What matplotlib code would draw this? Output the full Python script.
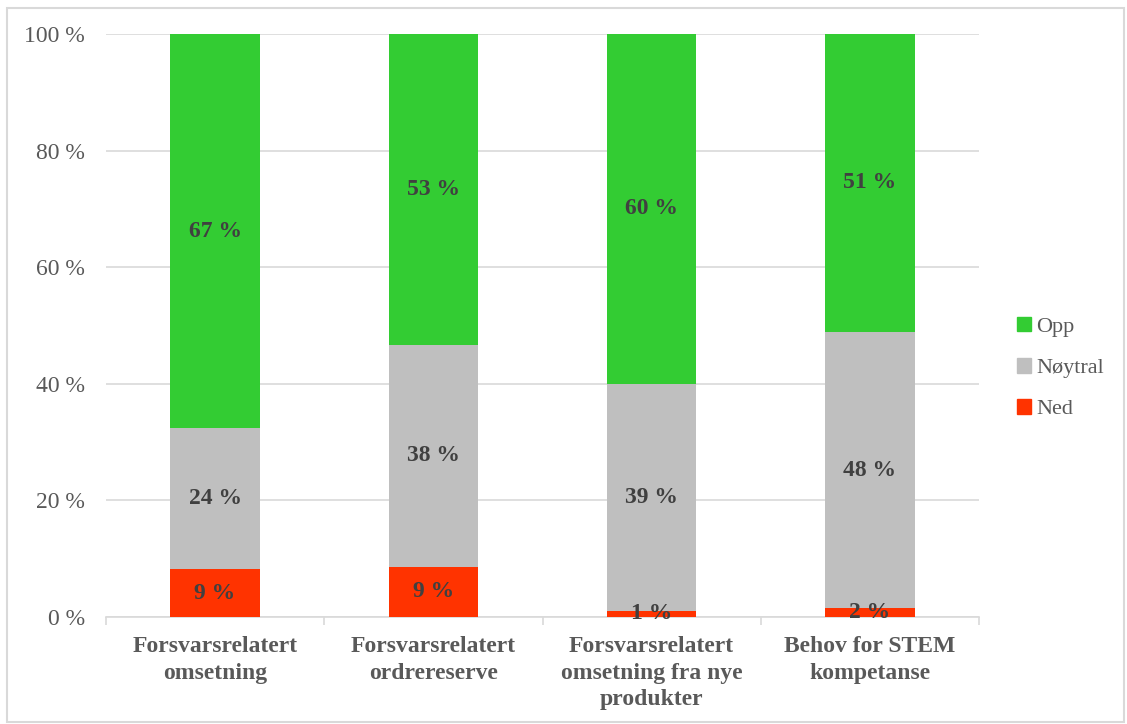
import matplotlib
matplotlib.use("Agg")
import matplotlib.pyplot as plt
from matplotlib.patches import Rectangle, Patch
import numpy as np

categories = ["Forsvarsrelatert\nomsetning", "Forsvarsrelatert\nordrereserve",
              "Forsvarsrelatert\nomsetning fra nye\nprodukter", "Behov for STEM\nkompetanse"]
ned = [8.2, 8.6, 1.1, 1.5]
noytral = [24.2, 38.1, 38.9, 47.4]
opp = [67.6, 53.3, 60.0, 51.1]
ned_labels = ["9 %", "9 %", "1 %", "2 %"]
noytral_labels = ["24 %", "38 %", "39 %", "48 %"]
opp_labels = ["67 %", "53 %", "60 %", "51 %"]
yticks = [0, 20, 40, 60, 80, 100]

plt.rcParams['font.family'] = ['Liberation Serif', 'DejaVu Serif']

fig = plt.figure(figsize=(11.27, 7.24), dpi=100)
ax = fig.add_axes([106/1127, 1-617/724, (979-106)/1127, (617-34)/724])

x = np.arange(len(categories))
w = 0.41
c_ned, c_noy, c_opp = "#FF3300", "#BFBFBF", "#33CC33"
ax.bar(x, ned, w, color=c_ned, label="Ned", zorder=3)
ax.bar(x, noytral, w, bottom=ned, color=c_noy, label="Nøytral", zorder=3)
bottom2 = np.array(ned) + np.array(noytral)
ax.bar(x, opp, w, bottom=bottom2, color=c_opp, label="Opp", zorder=3)

lab_kw = dict(ha="center", va="center", fontsize=17, fontweight="bold", color="#404040", zorder=4)
for i in range(len(categories)):
    ax.text(x[i], ned[i]/2, ned_labels[i], **lab_kw)
    ax.text(x[i], ned[i] + noytral[i]/2, noytral_labels[i], **lab_kw)
    ax.text(x[i], bottom2[i] + opp[i]/2, opp_labels[i], **lab_kw)

ax.set_xlim(-0.5, len(categories) - 0.5)
ax.set_ylim(0, 100)
ax.set_yticks(yticks)
ax.set_yticklabels([f"{v} %" for v in yticks], fontsize=17, color="#595959")
ax.yaxis.grid(True, color="#D9D9D9", linewidth=1.2, zorder=0)
ax.tick_params(axis="y", length=0, pad=15)
ax.set_xticks(x)
ax.set_xticklabels(categories, fontsize=17, fontweight="bold", color="#595959", linespacing=1.32)
ax.tick_params(axis="x", length=0, pad=14)
ax.set_xticks(np.arange(-0.5, len(categories), 1.0), minor=True)
ax.tick_params(axis="x", which="minor", length=6, color="#D9D9D9", width=1.2)
for s in ["top", "right", "left"]:
    ax.spines[s].set_visible(False)
ax.spines["bottom"].set_color("#D9D9D9")
ax.spines["bottom"].set_linewidth(1.2)

handles = [Patch(color=c_opp, label="Opp"), Patch(color=c_noy, label="Nøytral"), Patch(color=c_ned, label="Ned")]
fig.legend(handles=handles, loc="center left", bbox_to_anchor=(997/1127, 1-368/724),
           frameon=False, fontsize=16, labelcolor="#595959", handlelength=0.65, handleheight=0.65,
           handletextpad=0.2, labelspacing=0.95)

fig.patches.append(Rectangle((7/1127, 2/724), 1117/1127, 714/724, transform=fig.transFigure,
                             fill=False, edgecolor="#D9D9D9", linewidth=1.5))

fig.savefig("out.png", dpi=100)
